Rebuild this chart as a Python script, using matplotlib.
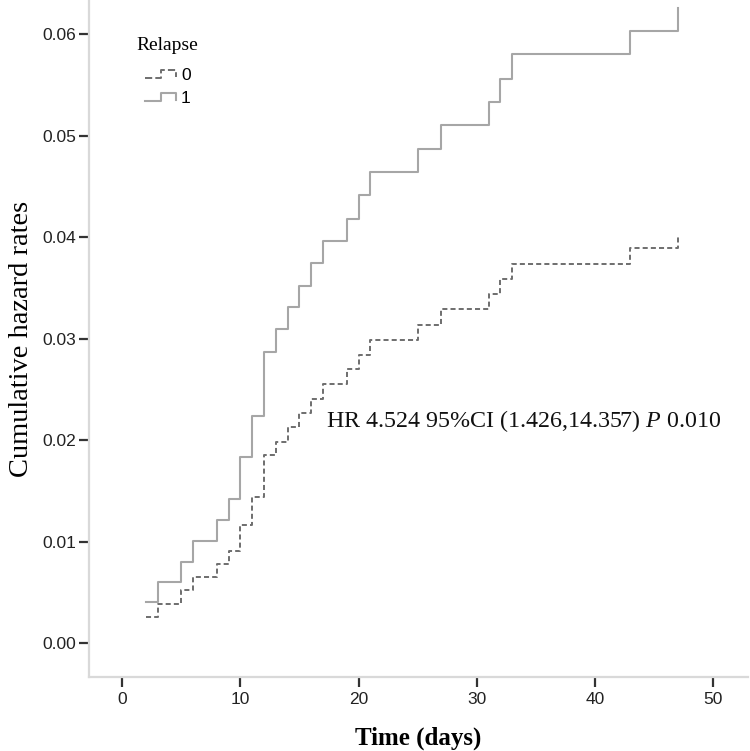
import matplotlib
matplotlib.use("Agg")
import matplotlib.pyplot as plt
from matplotlib.lines import Line2D
from matplotlib.legend_handler import HandlerBase

plt.rcParams["mathtext.fontset"] = "custom"
plt.rcParams["mathtext.it"] = "Liberation Serif:italic"
plt.rcParams["mathtext.rm"] = "Liberation Serif"

# ---- data ----
times = [2, 3, 5, 6, 8, 9, 10, 11, 12, 13, 14, 15, 16, 17, 19, 20, 21, 25, 27, 31, 32, 33, 43, 47]
relapse1 = [0.0040, 0.0060, 0.0080, 0.0101, 0.0121, 0.0142, 0.0183, 0.0224, 0.0287, 0.0309,
            0.0331, 0.0352, 0.0374, 0.0396, 0.0418, 0.0441, 0.0464, 0.0487, 0.0510, 0.0533,
            0.0556, 0.0580, 0.0603, 0.0626]
relapse0 = [0.0026, 0.0038, 0.0052, 0.0065, 0.0078, 0.0091, 0.0116, 0.0144, 0.0185, 0.0198,
            0.0213, 0.0227, 0.0240, 0.0255, 0.0270, 0.0284, 0.0299, 0.0313, 0.0329, 0.0344,
            0.0359, 0.0373, 0.0389, 0.0400]
group_labels = ["0", "1"]
x_ticks = [0, 10, 20, 30, 40, 50]
y_ticks = [0.00, 0.01, 0.02, 0.03, 0.04, 0.05, 0.06]
annotation = r"HR 4.524 95%CI (1.426,14.357) $\it{P}$ 0.010"

C0 = "#6e6e6e"
C1 = "#a6a6a6"
DASH = (0, (2.6, 1.6))

fig = plt.figure(figsize=(7.5, 7.51), dpi=100)
ax = fig.add_axes([0.1187, 0.0985, 0.878, 0.9015])

l0, = ax.plot(times, relapse0, drawstyle="steps-post", color=C0, lw=1.4, linestyle=DASH)
l1, = ax.plot(times, relapse1, drawstyle="steps-post", color=C1, lw=1.5)

ax.set_xlim(-2.8, 52.9)
ax.set_ylim(-0.00335, 0.06335)
ax.set_xticks(x_ticks)
ax.set_yticks(y_ticks)
ax.set_xticklabels([str(t) for t in x_ticks], family="Liberation Sans", fontsize=12.5, color="#222222")
ax.set_yticklabels([f"{v:.2f}" for v in y_ticks], family="Liberation Sans", fontsize=12.5, color="#222222")

for s in ["top", "right"]:
    ax.spines[s].set_visible(False)
for s in ["left", "bottom"]:
    ax.spines[s].set_color("#d9d9d9")
    ax.spines[s].set_linewidth(1.6)

ax.tick_params(axis="y", length=7, width=1.6, color="#333333", pad=2, direction="out")
ax.tick_params(axis="x", length=7, width=1.6, color="#333333", pad=4, direction="out")

ax.set_ylabel("Cumulative hazard rates", family="Liberation Serif", fontsize=20.5, labelpad=6)
ax.set_xlabel("Time (days)", family="Liberation Serif", fontsize=18, fontweight="bold", labelpad=14)

ax.text(0.36, 0.378, annotation, transform=ax.transAxes, family="Liberation Serif",
        fontsize=17.3, ha="left", va="center", color="#111111")


class StepHandler(HandlerBase):
    def create_artists(self, legend, orig_handle, xdescent, ydescent, width, height, fontsize, trans):
        fx = [0.0, 0.5, 0.5, 0.97, 0.97]
        fy = [0.15, 0.15, 0.75, 0.75, 0.25]
        xs = [f * width - xdescent for f in fx]
        ys = [f * height - ydescent for f in fy]
        ln = Line2D(xs, ys, color=orig_handle.get_color(), lw=orig_handle.get_linewidth(),
                    linestyle=orig_handle.get_linestyle())
        ln.set_transform(trans)
        return [ln]


leg = ax.legend([l0, l1], group_labels, title="Relapse", loc="upper left",
                bbox_to_anchor=(0.0725, 0.946), frameon=False, handlelength=1.85,
                handletextpad=0.25, labelspacing=0.45, borderpad=0, borderaxespad=0,
                prop={"family": "Liberation Sans", "size": 12.5},
                handler_map={Line2D: StepHandler()})
leg.get_title().set_family("Liberation Serif")
leg.get_title().set_fontsize(14)
leg._legend_box.align = "center"
leg._legend_box.sep = 10

fig.savefig("out.png", dpi=100)
